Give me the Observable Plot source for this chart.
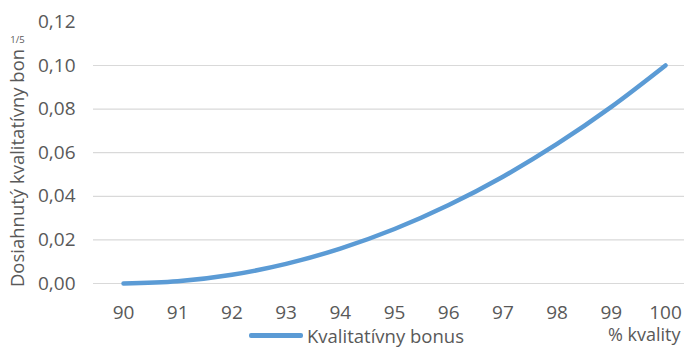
<!DOCTYPE html>
<html>
<head>
<meta charset="utf-8">
<script src="https://cdn.jsdelivr.net/npm/d3@7"></script>
<script src="https://cdn.jsdelivr.net/npm/@observablehq/plot@0.6"></script>
<style>
  html, body { margin: 0; padding: 0; background: #fff; }
  #wrap { position: relative; width: 684px; height: 348px; }
  #legend { position: absolute; left: 249px; top: 326px; font-family: "Open Sans", sans-serif; font-size: 18.5px; line-height: 19px; color: #595959; display: flex; align-items: center; white-space: nowrap; }
  #legend .sw { display: inline-block; width: 54px; height: 4.5px; background: #5b9bd5; border-radius: 2px; margin-right: 4px; }
</style>
</head>
<body>
<div id="wrap"></div>
<script>
const quality = [90, 91, 92, 93, 94, 95, 96, 97, 98, 99, 100];
const bonus = [0.000, 0.001, 0.004, 0.009, 0.016, 0.025, 0.036, 0.049, 0.064, 0.081, 0.100];
const xTicks = [90, 91, 92, 93, 94, 95, 96, 97, 98, 99, 100];
const yTicks = [0, 0.02, 0.04, 0.06, 0.08, 0.10, 0.12];
const gridTicks = [0, 0.02, 0.04, 0.06, 0.08, 0.10];
const yTitle = "Dosiahnutý kvalitatívny bon";
const xTitle = "% kvality";
const cornerNote = "1/5";
const seriesName = "Kvalitatívny bonus";

const data = quality.map((q, i) => ({q, v: bonus[i]}));
const fmt = d => d.toFixed(2).replace(".", ",");

const chart = Plot.plot({
  width: 684,
  height: 348,
  marginLeft: 93,
  marginRight: 0,
  marginTop: 0,
  marginBottom: 65,
  style: {fontFamily: "'Open Sans', sans-serif", fontSize: "19px", color: "#595959", background: "#fff"},
  x: {domain: [90, 100], range: [123, 665]},
  y: {domain: [0, 0.12], range: [283, 21.4]},
  marks: [
    Plot.gridY(gridTicks, {stroke: "#d9d9d9", strokeOpacity: 1, strokeWidth: 1.2}),
    Plot.axisY(yTicks, {tickSize: 0, tickPadding: 18, tickFormat: fmt, label: null, fill: "#595959", fontSize: 19}),
    Plot.axisX(xTicks, {tickSize: 0, tickPadding: 22, label: null, fill: "#595959", fontSize: 19}),
    Plot.line(data, {x: "q", y: "v", stroke: "#5b9bd5", strokeWidth: 4.5, curve: "monotone-x", strokeLinecap: "round"}),
    Plot.text([yTitle], {frameAnchor: "left", textAnchor: "middle", rotate: -90, dx: -75, dy: 26, fill: "#595959", fontSize: 18.5}),
    Plot.text([cornerNote], {frameAnchor: "top-left", textAnchor: "middle", dx: -76, dy: 36, fill: "#595959", fontSize: 9.5}),
    Plot.text([xTitle], {frameAnchor: "bottom-right", textAnchor: "end", dx: -4, dy: 57, fill: "#595959", fontSize: 18})
  ]
});
document.getElementById("wrap").appendChild(chart);

const leg = document.createElement("div");
leg.id = "legend";
leg.innerHTML = '<span class="sw"></span><span></span>';
leg.lastChild.textContent = seriesName;
document.getElementById("wrap").appendChild(leg);
</script>
</body>
</html>
